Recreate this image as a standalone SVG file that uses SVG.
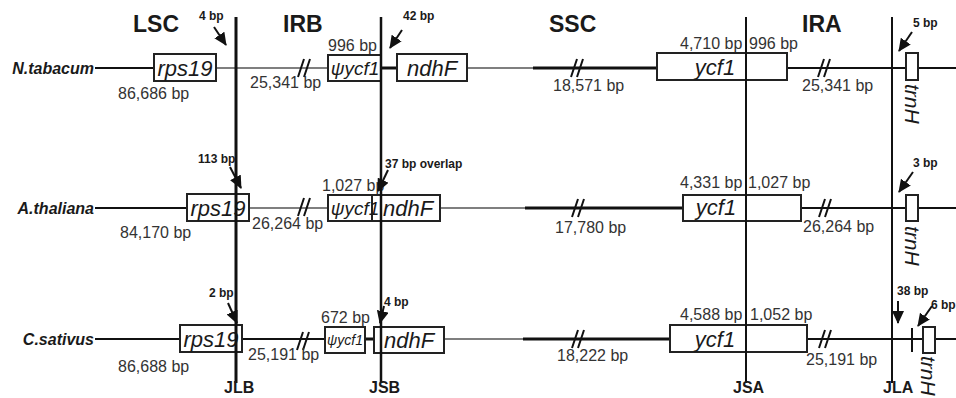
<svg xmlns="http://www.w3.org/2000/svg" xmlns:xlink="http://www.w3.org/1999/xlink" width="956" height="398" viewBox="0 0 956 398">
<style>
text{font-family:"Liberation Sans",Arial,sans-serif;fill:#1a1a1a}
.hd{font-size:23px;font-weight:bold}
.sp{font-size:16px;font-weight:bold;font-style:italic;text-anchor:end}
.bp{font-size:16px;fill:#333}
.sm{font-size:12px;font-weight:bold}
.jn{font-size:16px;font-weight:bold}
.gn{font-size:22px;font-style:italic;text-anchor:middle}
.tr{font-size:21px;font-style:italic}
.box{fill:#fff;stroke:#222;stroke-width:2}
.ln{stroke:#111;stroke-width:2;fill:none}
.thin{stroke:#555;stroke-width:1.3;fill:none}
.thick{stroke:#111;stroke-width:3;fill:none}
.vl{stroke:#111;fill:none}
.arr{stroke:#111;stroke-width:2;fill:none;marker-end:url(#ah)}
.sl{stroke:#111;stroke-width:2;fill:none}
</style>
<defs>
<marker id="ah" markerUnits="userSpaceOnUse" markerWidth="14" markerHeight="12" refX="12" refY="6" orient="auto" viewBox="0 0 14 12">
<path d="M0,0 L13,6 L0,12 z" fill="#111"/>
</marker>
<path id="sl" class="sl" d="M-6,9 L0,-9 M0,9 L6,-9"/>
</defs>

<g id="headers">
<text class="hd" x="133" y="32">LSC</text>
<text class="hd" x="283" y="32">IRB</text>
<text class="hd" x="549" y="32">SSC</text>
<text class="hd" x="802" y="32">IRA</text>
</g>

<g id="connectors">
<line class="ln" x1="95" y1="68" x2="154" y2="68"/>
<line class="thin" x1="216" y1="68" x2="328" y2="68"/>
<line class="thick" x1="381" y1="68" x2="397" y2="68"/>
<line class="thin" x1="467" y1="68" x2="533" y2="68"/>
<line class="thick" x1="533" y1="68" x2="657" y2="68"/>
<line class="ln" x1="787" y1="68" x2="956" y2="68"/>
<line class="ln" x1="95" y1="208" x2="187" y2="208"/>
<line class="thin" x1="249" y1="208" x2="328" y2="208"/>
<line class="thin" x1="440" y1="208" x2="525" y2="208"/>
<line class="thick" x1="525" y1="208" x2="683" y2="208"/>
<line class="ln" x1="801" y1="208" x2="956" y2="208"/>
<line class="ln" x1="95" y1="339" x2="180" y2="339"/>
<line class="ln" x1="242" y1="339" x2="325" y2="339"/>
<line class="thick" x1="365" y1="339" x2="374" y2="339"/>
<line class="thin" x1="444" y1="339" x2="523" y2="339"/>
<line class="thick" x1="523" y1="339" x2="670" y2="339"/>
<line class="ln" x1="807" y1="339" x2="956" y2="339"/>
<line class="ln" x1="912" y1="328" x2="912" y2="352"/>
</g>

<g id="slashes">
<use xlink:href="#sl" x="304" y="68"/>
<use xlink:href="#sl" x="577" y="68"/>
<use xlink:href="#sl" x="824" y="68"/>
<use xlink:href="#sl" x="304" y="207"/>
<use xlink:href="#sl" x="578" y="208"/>
<use xlink:href="#sl" x="825" y="208"/>
<use xlink:href="#sl" x="303" y="341"/>
<use xlink:href="#sl" x="578" y="339"/>
<use xlink:href="#sl" x="825" y="339"/>
</g>

<g id="n-tabacum">
<text class="sp" x="94" y="74">N.tabacum</text>
<rect class="box" x="154" y="54" width="62" height="27"/>
<text class="gn" x="185" y="76">rps19</text>
<rect class="box" x="328" y="55" width="53" height="26"/>
<text class="gn" x="355" y="75" style="font-size:19px">ψycf1</text>
<rect class="box" x="397" y="54" width="70" height="27"/>
<text class="gn" x="432" y="76">ndhF</text>
<rect class="box" x="657" y="53" width="130" height="27"/>
<text class="gn" x="715" y="75">ycf1</text>
<rect class="box" x="906" y="53" width="12" height="27"/>
<text class="tr" transform="translate(905,84) rotate(90)">trnH</text>
<text class="bp" x="118" y="99">86,686 bp</text>
<text class="bp" x="250" y="88">25,341 bp</text>
<text class="bp" x="328" y="51">996 bp</text>
<text class="bp" x="553" y="91">18,571 bp</text>
<text class="bp" x="680" y="49">4,710 bp</text>
<text class="bp" x="749" y="49">996 bp</text>
<text class="bp" x="802" y="91">25,341 bp</text>
</g>

<g id="a-thaliana">
<text class="sp" x="94" y="214">A.thaliana</text>
<rect class="box" x="187" y="194" width="62" height="27"/>
<text class="gn" x="218" y="216">rps19</text>
<rect class="box" x="328" y="195" width="53" height="26"/>
<rect class="box" x="372" y="195" width="68" height="26" style="fill:none"/>
<text class="gn" x="355" y="215" style="font-size:19px">ψycf1</text>
<text class="gn" x="408" y="216">ndhF</text>
<rect class="box" x="683" y="195" width="118" height="26"/>
<text class="gn" x="716" y="215">ycf1</text>
<rect class="box" x="906" y="195" width="12" height="26"/>
<text class="tr" transform="translate(905,226) rotate(90)">trnH</text>
<text class="bp" x="120" y="238">84,170 bp</text>
<text class="bp" x="252" y="229">26,264 bp</text>
<text class="bp" x="322" y="191">1,027 bp</text>
<text class="bp" x="555" y="233">17,780 bp</text>
<text class="bp" x="680" y="188">4,331 bp</text>
<text class="bp" x="748" y="188">1,027 bp</text>
<text class="bp" x="803" y="232">26,264 bp</text>
</g>

<g id="c-sativus">
<text class="sp" x="94" y="345">C.sativus</text>
<rect class="box" x="180" y="325" width="62" height="27"/>
<text class="gn" x="211" y="347">rps19</text>
<rect class="box" x="325" y="327" width="40" height="26"/>
<text class="gn" x="345" y="345" style="font-size:14px">ψycf1</text>
<rect class="box" x="374" y="327" width="70" height="26"/>
<text class="gn" x="409" y="348">ndhF</text>
<rect class="box" x="670" y="325" width="137" height="27"/>
<text class="gn" x="715" y="347">ycf1</text>
<rect class="box" x="923" y="327" width="12" height="26"/>
<text class="tr" transform="translate(921,356) rotate(90)">trnH</text>
<text class="bp" x="118" y="372">86,688 bp</text>
<text class="bp" x="248" y="360">25,191 bp</text>
<text class="bp" x="321" y="323">672 bp</text>
<text class="bp" x="557" y="361">18,222 bp</text>
<text class="bp" x="680" y="320">4,588 bp</text>
<text class="bp" x="750" y="320">1,052 bp</text>
<text class="bp" x="806" y="365">25,191 bp</text>
</g>

<g id="junctions">
<line class="vl" x1="236" y1="17" x2="236" y2="383" style="stroke-width:3"/>
<line class="vl" x1="381" y1="17" x2="381" y2="383" style="stroke-width:2.5"/>
<line class="vl" x1="746" y1="17" x2="746" y2="383" style="stroke-width:2"/>
<line class="vl" x1="892" y1="17" x2="892" y2="383" style="stroke-width:2"/>
<text class="jn" x="224" y="393">JLB</text>
<text class="jn" x="369" y="393">JSB</text>
<text class="jn" x="733" y="393">JSA</text>
<text class="jn" x="883" y="393">JLA</text>
</g>

<g id="arrows">
<path class="arr" d="M214,27 L226,45"/>
<text class="sm" x="199" y="20">4 bp</text>
<path class="arr" d="M402,30 L390,48"/>
<text class="sm" x="403" y="20">42 bp</text>
<path class="arr" d="M912,32 L899,51"/>
<text class="sm" x="913" y="27">5 bp</text>
<path class="arr" d="M230,167 L241,188"/>
<text class="sm" x="198" y="163">113 bp</text>
<path class="arr" d="M388,170 L378,191"/>
<text class="sm" x="385" y="168">37 bp overlap</text>
<path class="arr" d="M913,172 L899,192"/>
<text class="sm" x="913" y="167">3 bp</text>
<path class="arr" d="M228,303 L237,323"/>
<text class="sm" x="209" y="297">2 bp</text>
<path class="arr" d="M384,306 L380,323"/>
<text class="sm" x="384" y="306">4 bp</text>
<path class="arr" d="M898,301 L898,323"/>
<text class="sm" x="897" y="295">38 bp</text>
<path class="arr" d="M932,306 L918,326"/>
<text class="sm" x="931" y="309">6 bp</text>
</g>
</svg>
